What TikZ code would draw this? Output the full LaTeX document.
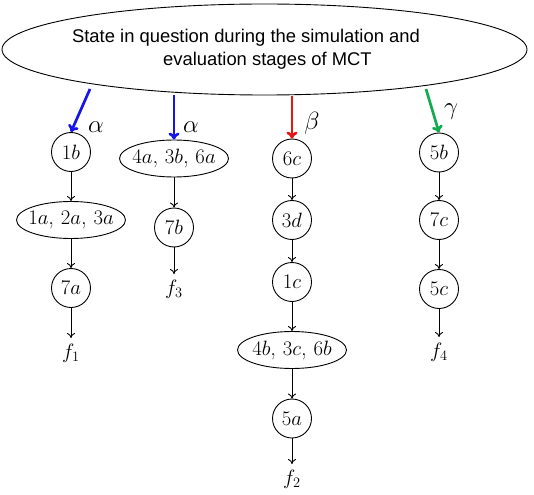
\documentclass[tikz,border=0pt]{standalone}
\usepackage{fontspec}
\newfontfamily\sansf{Liberation Sans}
\usetikzlibrary{shapes.geometric,arrows.meta}
\definecolor{myblue}{RGB}{20,20,235}
\definecolor{myred}{RGB}{230,20,20}
\definecolor{mygreen}{RGB}{20,170,80}
\begin{document}
\begin{tikzpicture}[x=1pt,y=-1pt,
  st/.style={draw, circle, minimum size=39pt, inner sep=0pt, line width=0.9pt, font=\fontsize{22.5}{26}\selectfont},
  grp/.style={draw, ellipse, minimum width=109pt, minimum height=37pt, inner xsep=-30pt, inner ysep=-5pt, line width=0.9pt, font=\fontsize{22.5}{26}\selectfont},
  fin/.style={anchor=north, inner xsep=1pt, inner ysep=6pt, font=\fontsize{22.5}{26}\selectfont},
  flow/.style={-{To[length=5pt,width=8pt]}, line width=0.9pt},
  pick/.style={-{To[length=7pt,width=11pt]}, line width=2.7pt},
  greek/.style={inner sep=0pt, font=\fontsize{26}{30}\selectfont}]
\useasboundingbox (0,0) rectangle (534,494);

\node[draw, ellipse, line width=0.9pt, minimum width=525pt, minimum height=91pt, inner xsep=-50pt, inner ysep=0pt,
      align=left, font=\sansf\fontsize{18.4}{23}\selectfont] (state) at (264.5,49.5)
  {State in question during the simulation and\hspace*{37pt}\\\hspace*{91pt}evaluation stages of MCT};

% column 1
\node[st] (n1b) at (71,152) {$1b$};
\node[grp] (g1) at (71,220) {$1a$, $2a$, $3a$};
\node[st] (n7a) at (71,288) {$7a$};
\node[fin] (f1) at (71,338) {$f_1$};
% column 2
\node[grp] (g2) at (174,158.5) {$4a$, $3b$, $6a$};
\node[st] (n7b) at (174,227.5) {$7b$};
\node[fin] (f3) at (174,274) {$f_3$};
% column 3
\node[st] (n6c) at (292,158.5) {$6c$};
\node[st] (n3d) at (292,220) {$3d$};
\node[st] (n1c) at (292,282) {$1c$};
\node[grp] (g3) at (292,350) {$4b$, $3c$, $6b$};
\node[st] (n5a) at (292,418.5) {$5a$};
\node[fin] (f2) at (292,464) {$f_2$};
% column 4
\node[st] (n5b) at (439,152.5) {$5b$};
\node[st] (n7c) at (439,220) {$7c$};
\node[st] (n5c) at (439,289) {$5c$};
\node[fin] (f4) at (439,337) {$f_4$};

\draw[flow] (n1b) -- (g1);
\draw[flow] (g1) -- (n7a);
\draw[flow] (n7a) -- (f1);
\draw[flow] (g2) -- (n7b);
\draw[flow] (n7b) -- (f3);
\draw[flow] (n6c) -- (n3d);
\draw[flow] (n3d) -- (n1c);
\draw[flow] (n1c) -- (g3);
\draw[flow] (g3) -- (n5a);
\draw[flow] (n5a) -- (f2);
\draw[flow] (n5b) -- (n7c);
\draw[flow] (n7c) -- (n5c);
\draw[flow] (n5c) -- (f4);

\coordinate (s1) at (90,89);
\coordinate (s2) at (174,95);
\coordinate (s3) at (292,96);
\coordinate (s4) at (426,89);
\draw[pick, myblue] (s1) -- (n1b.north);
\draw[pick, myblue] (s2) -- (g2.north);
\draw[pick, myred] (s3) -- (n6c.north);
\draw[pick, mygreen] (s4) -- (n5b.north);

\node[greek] (a1) at (96,127) {$\alpha$};
\node[greek] (a2) at (191,127) {$\alpha$};
\node[greek] (b3) at (312,123) {$\beta$};
\node[greek] (c4) at (451,112) {$\gamma$};
\end{tikzpicture}
\end{document}
